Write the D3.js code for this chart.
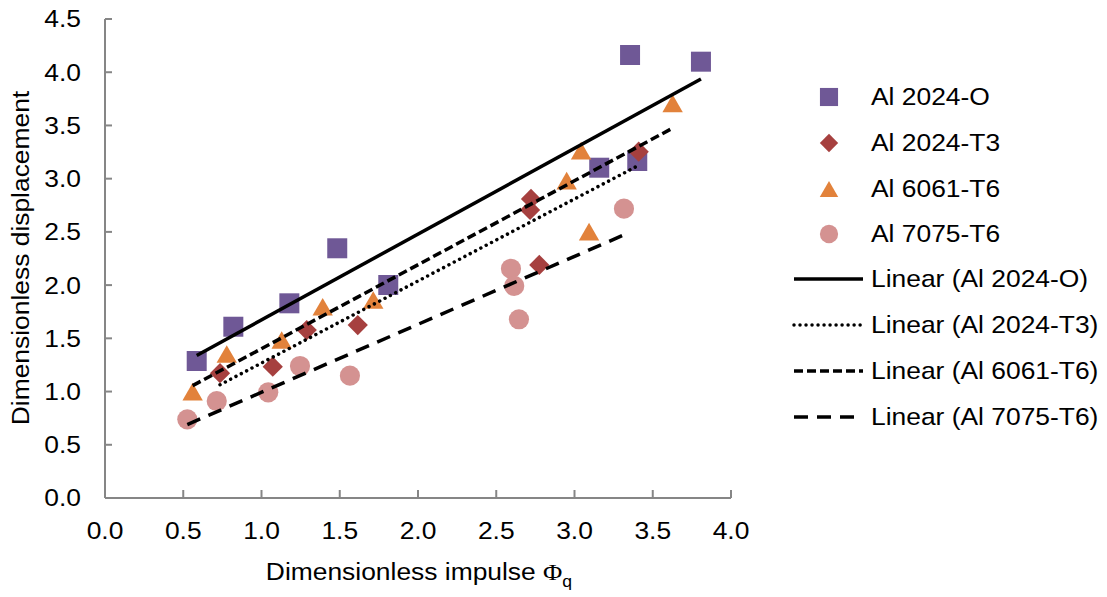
<!DOCTYPE html>
<html>
<head>
<meta charset="utf-8">
<script src="https://cdn.jsdelivr.net/npm/d3@7"></script>
<style>
  body { margin: 0; background: #fff; }
  text { font-family: "Liberation Sans", Arial, sans-serif; fill: #000; }
</style>
</head>
<body>
<div id="chart"></div>
<script>
// data
const al2024O = [
  [0.586, 1.287], [0.820, 1.609], [1.178, 1.829], [1.484, 2.346], [1.810, 2.001],
  [3.158, 3.103], [3.355, 4.162], [3.401, 3.166], [3.808, 4.099]
];
const al2024T3 = [
  [0.735, 1.172], [1.072, 1.234], [1.289, 1.578], [1.615, 1.625],
  [2.722, 2.809], [2.716, 2.706], [2.775, 2.189], [3.410, 3.253]
];
const al6061T6 = [
  [0.560, 0.999], [0.778, 1.353], [1.129, 1.484], [1.391, 1.797], [1.714, 1.860],
  [2.950, 2.981], [3.042, 3.263], [3.093, 2.502], [3.627, 3.708]
];
const al7075T6 = [
  [0.526, 0.739], [0.714, 0.911], [1.043, 0.993], [1.246, 1.240], [1.565, 1.149],
  [2.594, 2.154], [2.615, 1.992], [2.645, 1.679], [3.316, 2.718]
];

const xTicks = [0, 0.5, 1, 1.5, 2, 2.5, 3, 3.5, 4];
const yTicks = [0, 0.5, 1, 1.5, 2, 2.5, 3, 3.5, 4, 4.5];

const series = [
  { name: "Al 2024-O",  data: al2024O,  shape: "square",  color: "#6f5896", dash: null },
  { name: "Al 2024-T3", data: al2024T3, shape: "diamond", color: "#a6403f", dash: "0.01,6" },
  { name: "Al 6061-T6", data: al6061T6, shape: "triangle", color: "#e2823b", dash: "9,4" },
  { name: "Al 7075-T6", data: al7075T6, shape: "circle", color: "#d49291", dash: "14,9" }
];

const width = 1107;
const height = 597;
const stretch = 1.1; // text in the figure is a little wide

const svg = d3.select("#chart")
  .append("svg")
  .attr("width", width)
  .attr("height", height);

const x = d3.scaleLinear().domain([0, 4]).range([105, 731]);
const y = d3.scaleLinear().domain([0, 4.5]).range([498, 19]);

// least squares trendline over the span of the series
function fit(pts) {
  const mx = d3.mean(pts, d => d[0]);
  const my = d3.mean(pts, d => d[1]);
  const b = d3.sum(pts, d => (d[0] - mx) * (d[1] - my)) / d3.sum(pts, d => (d[0] - mx) ** 2);
  const a = my - b * mx;
  const [x0, x1] = d3.extent(pts, d => d[0]);
  return [[x0, a + b * x0], [x1, a + b * x1]];
}

// marker path + transform, centred on its bounding box
function marker(shape, k) {
  if (shape === "square") return { d: d3.symbol(d3.symbolSquare, 400 * k)(), t: "" };
  if (shape === "diamond") return { d: d3.symbol(d3.symbolSquare, 205 * k)(), t: " rotate(45)" };
  if (shape === "triangle") {
    const size = 180 * k;
    const h = Math.sqrt(size * 4 / Math.sqrt(3)) * Math.sqrt(3) / 2;
    return { d: d3.symbol(d3.symbolTriangle, size)(), t: ` translate(0,${h / 6})` };
  }
  return { d: d3.symbol(d3.symbolCircle, 320 * k)(), t: "" };
}

function label(px, py, anchor) {
  return svg.append("text")
    .attr("transform", `translate(${px},${py}) scale(${stretch},1)`)
    .attr("text-anchor", anchor)
    .attr("font-size", 24);
}

// axes
const axisColor = "#868686";
svg.append("line")
  .attr("x1", x(0)).attr("x2", x(0))
  .attr("y1", y(4.5)).attr("y2", y(0))
  .attr("stroke", axisColor).attr("stroke-width", 2);
svg.append("line")
  .attr("x1", x(0)).attr("x2", x(4))
  .attr("y1", y(0)).attr("y2", y(0))
  .attr("stroke", axisColor).attr("stroke-width", 2);

svg.selectAll(".ytick")
  .data(yTicks)
  .enter()
  .append("line")
  .attr("x1", x(0)).attr("x2", x(0) + 7)
  .attr("y1", d => y(d)).attr("y2", d => y(d))
  .attr("stroke", axisColor).attr("stroke-width", 2);

svg.selectAll(".xtick")
  .data(xTicks)
  .enter()
  .append("line")
  .attr("x1", d => x(d)).attr("x2", d => x(d))
  .attr("y1", y(0)).attr("y2", y(0) - 8)
  .attr("stroke", axisColor).attr("stroke-width", 2);

yTicks.forEach(v => {
  label(81, y(v), "end").attr("dy", "0.35em").text(v.toFixed(1));
});
xTicks.forEach(v => {
  label(x(v), 539, "middle").text(v.toFixed(1));
});

const xt = label(419, 580, "middle");
xt.append("tspan").text("Dimensionless impulse ");
xt.append("tspan").style("font-family", "'Liberation Serif', serif").text("\u03A6");
xt.append("tspan").attr("font-size", 16).attr("dy", 7).text("q");

svg.append("text")
  .attr("transform", `translate(29,258) rotate(-90) scale(${stretch},1)`)
  .attr("text-anchor", "middle")
  .attr("font-size", 24)
  .text("Dimensionless displacement");

// markers
series.forEach(s => {
  const m = marker(s.shape, 1);
  svg.append("g")
    .selectAll("path")
    .data(s.data)
    .enter()
    .append("path")
    .attr("d", m.d)
    .attr("transform", d => `translate(${x(d[0])},${y(d[1])})` + m.t)
    .attr("fill", s.color);
});

// trendlines drawn over the markers
const line = d3.line().x(d => x(d[0])).y(d => y(d[1]));
series.forEach(s => {
  svg.append("path")
    .datum(fit(s.data))
    .attr("d", line)
    .attr("fill", "none")
    .attr("stroke", "#000")
    .attr("stroke-width", 3.5)
    .attr("stroke-linecap", s.dash === "0.01,6" ? "round" : "butt")
    .attr("stroke-dasharray", s.dash);
});

// legend
const legY = [97, 143, 189, 234, 279, 325, 371, 417];
series.forEach((s, i) => {
  const m = marker(s.shape, 0.82);
  svg.append("path")
    .attr("d", m.d)
    .attr("transform", `translate(829,${legY[i]})` + m.t)
    .attr("fill", s.color);
  label(871, legY[i], "start").attr("dy", "0.35em").text(s.name);

  const j = i + 4;
  svg.append("line")
    .attr("x1", 794).attr("x2", 863)
    .attr("y1", legY[j]).attr("y2", legY[j])
    .attr("stroke", "#000")
    .attr("stroke-width", 3.5)
    .attr("stroke-linecap", s.dash === "0.01,6" ? "round" : "butt")
    .attr("stroke-dasharray", s.dash);
  label(871, legY[j], "start").attr("dy", "0.35em").text(`Linear (${s.name})`);
});
</script>
</body>
</html>
